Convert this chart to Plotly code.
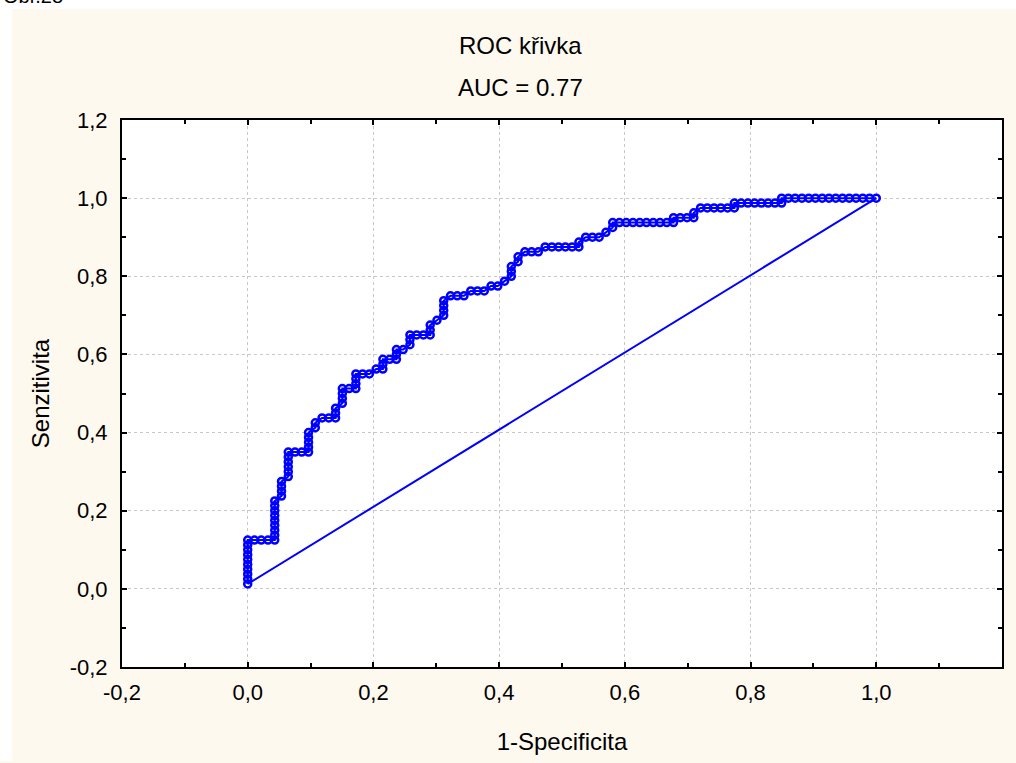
import plotly.graph_objects as go

# ---- data ----
N_NEG = 93   # number of negatives (x steps)
N_POS = 80   # number of positives (y steps)

fp_counts = [0, 0, 0, 0, 0, 0, 0, 0, 0, 0,
             1, 2, 3, 4,
             4, 4, 4, 4, 4, 4, 4, 4,
             5, 5, 5, 5,
             6, 6, 6, 6, 6, 6,
             7, 8, 9,
             9, 9, 9, 9,
             10, 10,
             11, 12, 13, 13, 13,
             14, 14, 14, 14,
             15, 16,
             16, 16, 16,
             17, 18,
             19, 20,
             20, 20,
             21, 22,
             22, 22,
             23, 24, 24, 24,
             25, 26, 27,
             27, 27,
             28,
             29, 29, 29, 29,
             30,
             31, 32,
             33, 34, 35,
             36, 37,
             38,
             39, 39, 39,
             40, 40,
             41, 42, 43,
             44, 45, 46, 47, 48, 49,
             49,
             50, 51, 52,
             53,
             54, 54,
             55, 56, 57, 58, 59, 60, 61, 62, 63,
             63, 64, 65, 66,
             66, 67,
             68, 69, 70, 71, 72,
             72, 73, 74, 75, 76, 77, 78, 79,
             79, 80, 81, 82, 83, 84, 85, 86, 87, 88, 89, 90, 91, 92, 93]

tp_counts = [1, 2, 3, 4, 5, 6, 7, 8, 9, 10,
             10, 10, 10, 10,
             11, 12, 13, 14, 15, 16, 17, 18,
             19, 20, 21, 22,
             23, 24, 25, 26, 27, 28,
             28, 28, 28,
             29, 30, 31, 32,
             33, 34,
             35, 35, 35, 36, 37,
             38, 39, 40, 41,
             41, 41,
             42, 43, 44,
             44, 44,
             45, 45,
             46, 47,
             47, 47,
             48, 49,
             49, 50, 51, 52,
             52, 52, 52,
             53, 54,
             55,
             56, 57, 58, 59,
             60,
             60, 60,
             61, 61, 61,
             62, 62,
             63,
             64, 65, 66,
             67, 68,
             69, 69, 69,
             70, 70, 70, 70, 70, 70,
             71,
             72, 72, 72,
             73,
             74, 75,
             75, 75, 75, 75, 75, 75, 75, 75, 75,
             76, 76, 76, 76,
             77, 78,
             78, 78, 78, 78, 78,
             79, 79, 79, 79, 79, 79, 79, 79,
             80, 80, 80, 80, 80, 80, 80, 80, 80, 80, 80, 80, 80, 80, 80]

tick_values = [-0.2, 0.0, 0.2, 0.4, 0.6, 0.8, 1.0, 1.2]
tick_labels = ["-0,2", "0,0", "0,2", "0,4", "0,6", "0,8", "1,0", "1,2"]

title_line1 = "ROC křivka"
title_line2 = "AUC = 0.77"
x_title = "1-Specificita"
y_title = "Senzitivita"
fig_label = "Obr.28"

fpr = [c / N_NEG for c in fp_counts]
tpr = [c / N_POS for c in tp_counts]

# ---- styling ----
FONT = "Liberation Sans, Arial, sans-serif"
BLUE = "#0000FF"
CREAM = "#FEF9EE"

W, H = 1016, 763
L, R, T, B = 121.5, 12.5, 120, 90
PW, PH = W - L - R, H - T - B


def px_to_paper_x(px):
    return (px - L) / PW


def px_to_paper_y(py):
    return (H - B - py) / PH


fig = go.Figure()

fig.add_trace(go.Scatter(
    x=fpr, y=tpr, mode="lines+markers",
    line=dict(color=BLUE, width=2),
    marker=dict(symbol="circle-open", size=7, color=BLUE, line=dict(width=2.5)),
    showlegend=False, hoverinfo="skip"))

fig.add_trace(go.Scatter(
    x=[fpr[0], fpr[-1]], y=[tpr[0], tpr[-1]], mode="lines",
    line=dict(color=BLUE, width=2),
    showlegend=False, hoverinfo="skip"))

axis_common = dict(
    range=[-0.2, 1.2], tickmode="array", tickvals=tick_values, ticktext=tick_labels,
    showgrid=True, gridcolor="#C8C8C8", griddash="3px,3px", gridwidth=1,
    zeroline=False, showline=True, linecolor="black", linewidth=2,
    mirror="ticks", ticks="inside", ticklen=5, tickwidth=2, tickcolor="black",
    minor=dict(tick0=0, dtick=0.1, ticks="inside", ticklen=4, tickwidth=1.5,
               tickcolor="black", showgrid=False),
    tickfont=dict(family=FONT, size=22, color="black"),
)

fig.update_xaxes(**axis_common, ticklabelstandoff=5,
                 title=dict(text=x_title, font=dict(family=FONT, size=24, color="black"),
                            standoff=29))
fig.update_yaxes(**axis_common, ticklabelstandoff=8,
                 title=dict(text=y_title, font=dict(family=FONT, size=24, color="black"),
                            standoff=13))

shapes = [
    # white strip at top and left of the page (outside the cream panel)
    dict(type="rect", xref="paper", yref="paper",
         x0=px_to_paper_x(-5), x1=px_to_paper_x(W + 5), y0=px_to_paper_y(8), y1=px_to_paper_y(-5),
         fillcolor="white", line=dict(width=0), layer="below"),
    dict(type="rect", xref="paper", yref="paper",
         x0=px_to_paper_x(-5), x1=px_to_paper_x(11), y0=px_to_paper_y(H + 5), y1=px_to_paper_y(-5),
         fillcolor="white", line=dict(width=0), layer="below"),
]

annotations = [
    dict(text=title_line1, x=px_to_paper_x(521), y=px_to_paper_y(45), xref="paper", yref="paper",
         xanchor="center", yanchor="middle", showarrow=False,
         font=dict(family=FONT, size=24, color="black")),
    dict(text=title_line2, x=px_to_paper_x(521), y=px_to_paper_y(87), xref="paper", yref="paper",
         xanchor="center", yanchor="middle", showarrow=False,
         font=dict(family=FONT, size=24, color="black")),
    dict(text=fig_label, x=px_to_paper_x(0), y=px_to_paper_y(-5), xref="paper", yref="paper",
         xanchor="left", yanchor="middle", showarrow=False,
         font=dict(family=FONT, size=20, color="black")),
]

fig.update_layout(
    width=W, height=H,
    margin=dict(l=L, r=R, t=T, b=B, pad=0),
    paper_bgcolor=CREAM, plot_bgcolor="white",
    shapes=shapes, annotations=annotations,
    showlegend=False,
)

fig.write_html("out.html", config={"displayModeBar": False},
               post_script="document.body.style.margin='0px';")
